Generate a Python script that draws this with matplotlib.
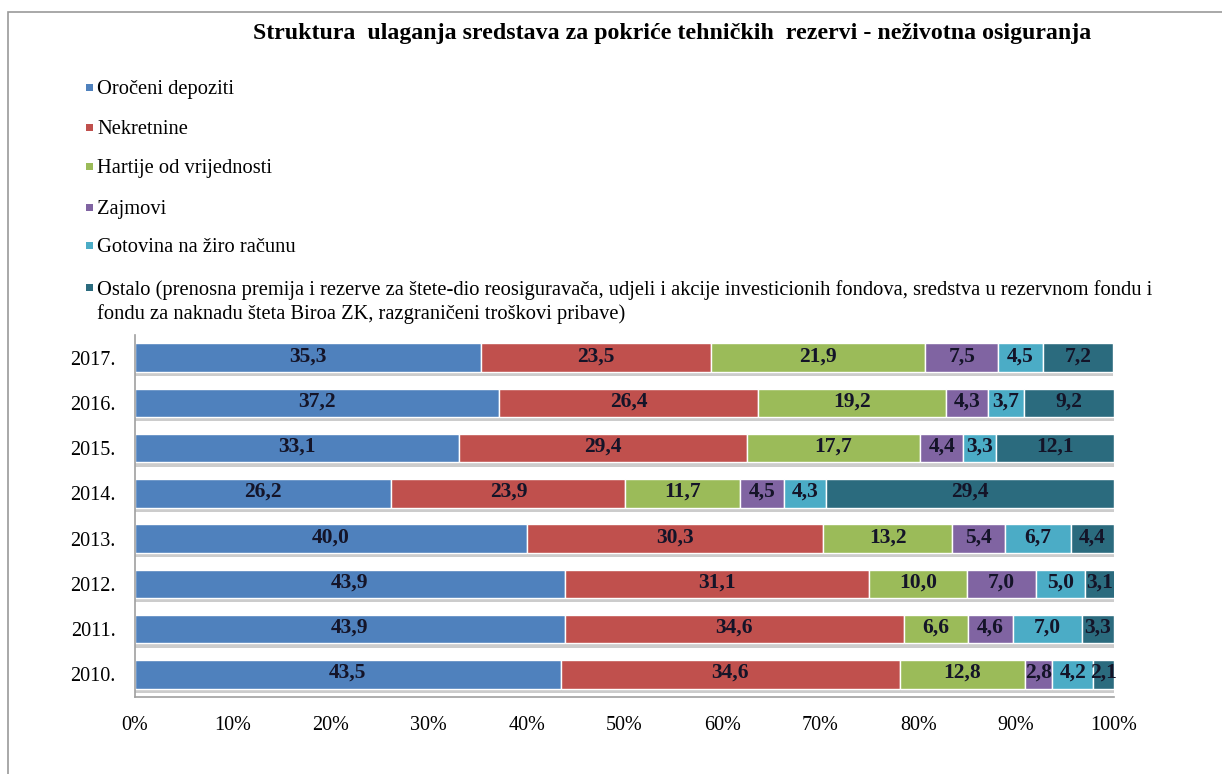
import numpy as np
import matplotlib
matplotlib.use("Agg")
import matplotlib.pyplot as plt
from matplotlib.patches import Rectangle
from matplotlib.patheffects import SimplePatchShadow, Normal
from matplotlib.ticker import FuncFormatter

# --- DATA ---
years = ["2010.", "2011.", "2012.", "2013.", "2014.", "2015.", "2016.", "2017."]
series_names = [
    "Oročeni depoziti",
    "Nekretnine",
    "Hartije od vrijednosti",
    "Zajmovi",
    "Gotovina na žiro računu",
    "Ostalo (prenosna premija i rezerve za štete-dio reosiguravača, udjeli i akcije investicionih fondova, sredstva u rezervnom fondu i\n"
    "fondu za naknadu šteta Biroa ZK, razgraničeni troškovi pribave)",
]
orocheni = [43.5, 43.9, 43.9, 40.0, 26.2, 33.1, 37.2, 35.3]
nekretnine = [34.6, 34.6, 31.1, 30.3, 23.9, 29.4, 26.4, 23.5]
hartije = [12.8, 6.6, 10.0, 13.2, 11.7, 17.7, 19.2, 21.9]
zajmovi = [2.8, 4.6, 7.0, 5.4, 4.5, 4.4, 4.3, 7.5]
gotovina = [4.2, 7.0, 5.0, 6.7, 4.3, 3.3, 3.7, 4.5]
ostalo = [2.1, 3.3, 3.1, 4.4, 29.4, 12.1, 9.2, 7.2]
colors = ["#4F81BD", "#C0504D", "#9BBB59", "#8064A2", "#4BACC6", "#2B6B7E"]

series = [orocheni, nekretnine, hartije, zajmovi, gotovina, ostalo]

W, H = 1222, 774

# --- FIGURE ---
plt.rcParams["font.family"] = ["Liberation Serif", "DejaVu Serif"]
fig = plt.figure(figsize=(W / 100, H / 100), dpi=100)
fig.patch.set_facecolor("white")

# outer frame of the figure box
fig.patches.append(Rectangle((8 / W, -0.05), 1.1, 0.05 + 1 - 12 / H,
                             transform=fig.transFigure, fill=False,
                             edgecolor="#9a9a9a", linewidth=1.2))

ax = fig.add_axes([135 / W, 1 - 697 / H, 979 / W, 362 / H])

y = np.arange(len(years))
left = np.zeros(len(years))
for vals, name, col in zip(series, series_names, colors):
    vals = np.array(vals)
    bars = ax.barh(y, vals, left=left, height=0.63, color=col,
                   edgecolor="white", linewidth=1.0, label=name)
    for b in bars:
        b.set_path_effects([SimplePatchShadow(offset=(0, -3), shadow_rgbFace="#9a9a9a", alpha=0.5),
                            Normal()])
    for yi, v, l in zip(y, vals, left):
        ax.text(l + v / 2, yi + 0.03, f"{v:.1f}".replace(".", ","), ha="center", va="center",
                fontsize=15.5, fontweight="bold", color="#141428")
    left = left + vals

ax.set_xlim(0, 100)
ax.set_ylim(-0.5, len(years) - 0.5)
ax.set_yticks(y)
ax.set_yticklabels(years, fontsize=14.5)
ax.set_xticks(np.arange(0, 101, 10))
ax.xaxis.set_major_formatter(FuncFormatter(lambda v, p: f"{v:.0f}%"))
ax.tick_params(axis="x", labelsize=14.5, length=0, pad=14)
ax.tick_params(axis="y", length=0, pad=14)
for s in ["top", "right"]:
    ax.spines[s].set_visible(False)
for s in ["left", "bottom"]:
    ax.spines[s].set_color("#a0a0a0")
    ax.spines[s].set_linewidth(1.2)

# --- TITLE ---
fig.text(672 / W, 1 - 34 / H,
         "Struktura  ulaganja sredstava za pokriće tehničkih  rezervi - neživotna osiguranja",
         ha="center", va="center", fontsize=17.2, fontweight="bold")

# --- LEGEND (drawn by hand so the last entry's square sits on its first line) ---
leg_y = [87, 127, 166, 207, 245, 287]
for name, col, yy in zip(series_names, colors, leg_y):
    fig.patches.append(Rectangle((86 / W, 1 - (yy + 4) / H), 7 / W, 7 / H,
                                 transform=fig.transFigure, facecolor=col,
                                 edgecolor="none"))
    fig.text(97 / W, 1 - (yy - 7) / H, name, ha="left", va="top",
             fontsize=14.8, linespacing=1.25)

fig.savefig("out.png", dpi=100)
